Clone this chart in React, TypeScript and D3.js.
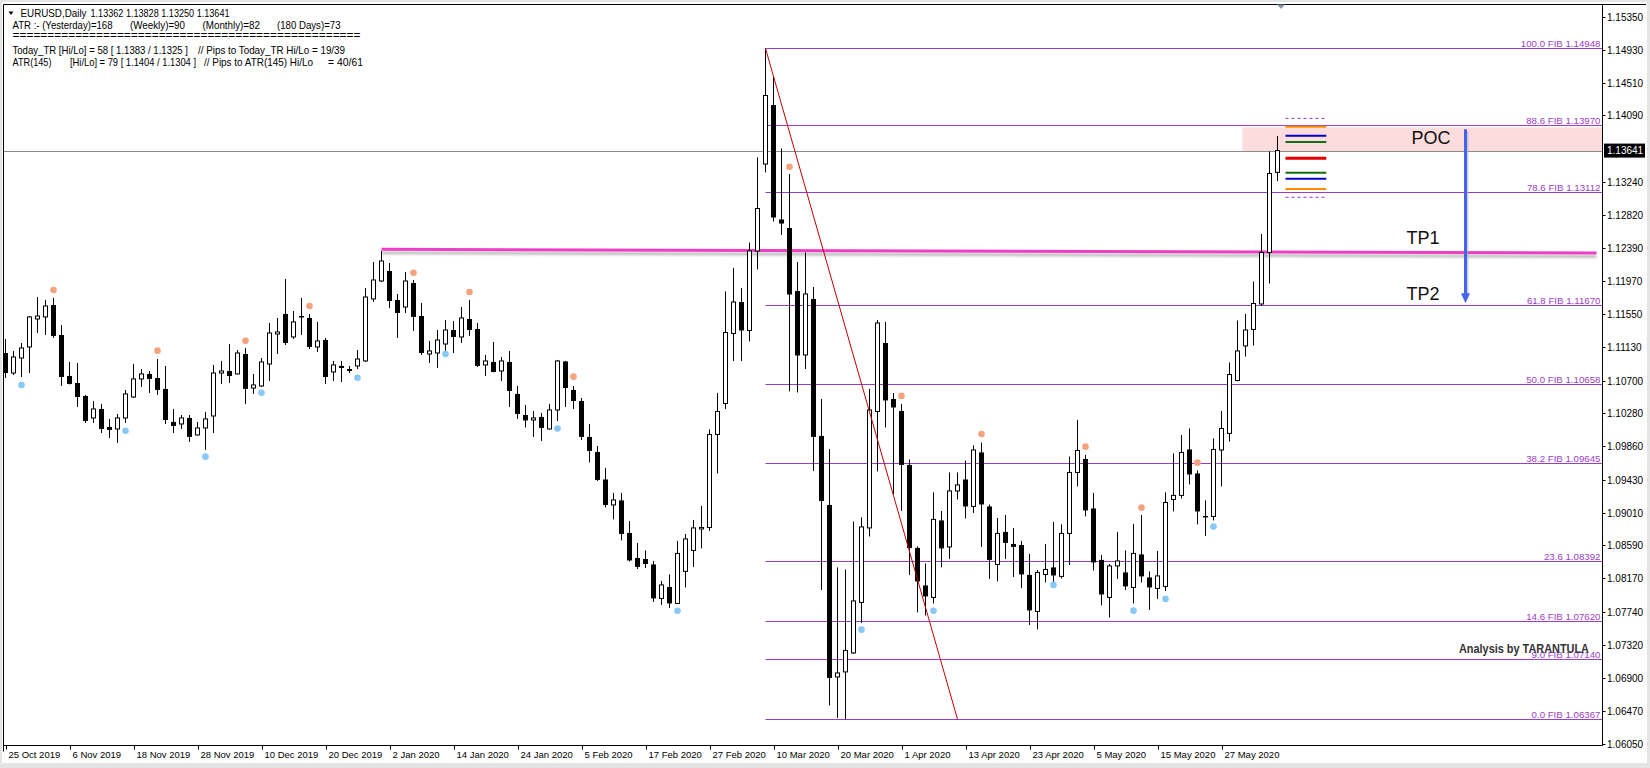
import React from 'react';
import * as d3 from 'd3';

const W = 1650;
const H = 768;

// plot frame (MT4 window)
const PL = 3.5;
const PT = 4.5;
const PR = 1602.5;
const PB = 745.5;

// EURUSD daily bars: open, high, low, close
const ohlc: [number, number, number, number][] = [
  [1.11052, 1.11231, 1.10732, 1.10796], [1.10796, 1.11078, 1.10771, 1.11001], [1.10988, 1.1118, 1.10745, 1.11116],
  [1.11129, 1.11525, 1.10796, 1.11513], [1.11487, 1.11768, 1.11308, 1.11525], [1.11513, 1.1173, 1.11282, 1.11653],
  [1.11666, 1.11756, 1.11244, 1.1127], [1.11282, 1.1141, 1.1063, 1.10745], [1.10758, 1.10937, 1.1065, 1.10656],
  [1.10668, 1.10924, 1.10361, 1.10489], [1.10502, 1.10515, 1.10157, 1.10182], [1.10221, 1.10438, 1.10157, 1.10336],
  [1.10336, 1.104, 1.10029, 1.1008], [1.10106, 1.10208, 1.09965, 1.10067], [1.1008, 1.10272, 1.09901, 1.10221],
  [1.10221, 1.10579, 1.10157, 1.10528], [1.10489, 1.10911, 1.10477, 1.1072], [1.1072, 1.10847, 1.10617, 1.10784],
  [1.10784, 1.10822, 1.10541, 1.1072], [1.10732, 1.10975, 1.10515, 1.10579], [1.10592, 1.10886, 1.10144, 1.10195],
  [1.1017, 1.10336, 1.10029, 1.10118], [1.10144, 1.10259, 1.1008, 1.10221], [1.10221, 1.10259, 1.09914, 1.09978],
  [1.10003, 1.1017, 1.09997, 1.10093], [1.10093, 1.10298, 1.09811, 1.10208], [1.10246, 1.10899, 1.10029, 1.10796],
  [1.10796, 1.1095, 1.10656, 1.10822], [1.10822, 1.11167, 1.10668, 1.10758], [1.10784, 1.1109, 1.10777, 1.11052],
  [1.11039, 1.11116, 1.104, 1.10592], [1.10604, 1.10784, 1.10528, 1.10643], [1.1063, 1.10988, 1.10617, 1.10937],
  [1.10911, 1.11436, 1.10694, 1.11308], [1.11295, 1.115, 1.11039, 1.11321], [1.11551, 1.11999, 1.11154, 1.1118],
  [1.11257, 1.11589, 1.11231, 1.11449], [1.11525, 1.11756, 1.11282, 1.11513], [1.115, 1.11551, 1.11103, 1.11129],
  [1.11129, 1.11449, 1.11065, 1.11206], [1.11218, 1.11244, 1.10656, 1.10745], [1.10809, 1.1095, 1.10694, 1.10899],
  [1.10886, 1.1095, 1.10681, 1.1086], [1.10847, 1.10886, 1.10796, 1.10822], [1.10886, 1.1109, 1.10847, 1.10975],
  [1.1095, 1.11883, 1.10937, 1.11768], [1.11743, 1.12216, 1.11704, 1.11986], [1.11973, 1.12357, 1.1196, 1.12229],
  [1.12101, 1.12203, 1.11628, 1.11717], [1.1173, 1.11807, 1.11244, 1.11564], [1.1164, 1.12088, 1.11564, 1.11973],
  [1.11947, 1.11986, 1.11334, 1.11513], [1.11525, 1.11692, 1.11027, 1.11052], [1.11039, 1.11206, 1.10924, 1.11078],
  [1.11052, 1.11346, 1.1086, 1.11218], [1.11167, 1.11474, 1.11052, 1.11346], [1.11346, 1.11461, 1.11052, 1.11257],
  [1.11257, 1.1164, 1.1118, 1.115], [1.11487, 1.1173, 1.1127, 1.11346], [1.11359, 1.11436, 1.10873, 1.10886],
  [1.10899, 1.11027, 1.10758, 1.1095], [1.10937, 1.11193, 1.10805, 1.10809], [1.10822, 1.11001, 1.10694, 1.1095],
  [1.10937, 1.11078, 1.10361, 1.10566], [1.10528, 1.1063, 1.10208, 1.10272], [1.10259, 1.10387, 1.10099, 1.10189],
  [1.10195, 1.1031, 1.09978, 1.10221], [1.10234, 1.10285, 1.09927, 1.10093], [1.1008, 1.104, 1.10074, 1.10323],
  [1.10323, 1.10963, 1.10182, 1.1095], [1.10944, 1.1095, 1.10361, 1.10604], [1.10579, 1.1063, 1.10336, 1.10438],
  [1.10438, 1.10477, 1.09939, 1.09978], [1.09978, 1.10144, 1.09652, 1.09799], [1.09786, 1.09863, 1.09415, 1.09428],
  [1.09434, 1.09581, 1.09076, 1.09108], [1.09108, 1.09262, 1.08923, 1.09172], [1.09166, 1.09262, 1.08654, 1.08737],
  [1.0875, 1.08903, 1.08385, 1.08398], [1.0843, 1.08622, 1.08289, 1.08315], [1.08417, 1.08526, 1.08302, 1.08353],
  [1.08347, 1.08392, 1.07867, 1.07912], [1.07912, 1.08136, 1.07829, 1.08085], [1.08059, 1.08219, 1.07791, 1.07848],
  [1.07848, 1.08648, 1.07842, 1.08488], [1.08258, 1.08737, 1.08053, 1.08673], [1.08526, 1.08916, 1.08315, 1.08814],
  [1.08801, 1.09095, 1.08552, 1.0882], [1.0882, 1.10074, 1.08776, 1.1001], [1.1001, 1.10541, 1.09511, 1.10304],
  [1.10406, 1.11839, 1.10336, 1.11314], [1.11302, 1.12139, 1.1095, 1.11704], [1.11704, 1.11883, 1.1095, 1.1134],
  [1.1134, 1.12465, 1.11199, 1.12357], [1.12357, 1.13553, 1.1212, 1.129], [1.13469, 1.14948, 1.13361, 1.14346],
  [1.14224, 1.14582, 1.12734, 1.12785], [1.1276, 1.13668, 1.12561, 1.12708], [1.12651, 1.13342, 1.1056, 1.118],
  [1.11845, 1.12216, 1.10547, 1.1102], [1.11027, 1.12338, 1.10847, 1.11807], [1.11743, 1.11896, 1.09543, 1.09978],
  [1.09991, 1.10464, 1.08021, 1.09159], [1.09108, 1.09824, 1.06544, 1.06895], [1.06908, 1.08309, 1.06384, 1.06959],
  [1.06972, 1.08283, 1.06367, 1.07247], [1.07215, 1.08897, 1.07202, 1.0788], [1.07861, 1.08948, 1.07599, 1.08827],
  [1.08814, 1.10592, 1.08705, 1.10323], [1.10304, 1.11474, 1.09537, 1.11436], [1.1118, 1.11449, 1.10099, 1.10445],
  [1.10464, 1.10541, 1.09249, 1.10355], [1.1031, 1.104, 1.09031, 1.0962], [1.0962, 1.0969, 1.08213, 1.08558],
  [1.08558, 1.08577, 1.07733, 1.0813], [1.08078, 1.0836, 1.07695, 1.07938], [1.07925, 1.09268, 1.07848, 1.08923],
  [1.0891, 1.09031, 1.08309, 1.08552], [1.08571, 1.09524, 1.08417, 1.09287], [1.09287, 1.09524, 1.09178, 1.09364],
  [1.09434, 1.09677, 1.08935, 1.09089], [1.09089, 1.09869, 1.09006, 1.09811], [1.0978, 1.09907, 1.08571, 1.09114],
  [1.09089, 1.09114, 1.08162, 1.08405], [1.08347, 1.08942, 1.0813, 1.08744], [1.08763, 1.0898, 1.08417, 1.08622],
  [1.08609, 1.08814, 1.08187, 1.08571], [1.08596, 1.08648, 1.08046, 1.08219], [1.08213, 1.08481, 1.07573, 1.07759],
  [1.07746, 1.08277, 1.07516, 1.08245], [1.08219, 1.08609, 1.08117, 1.08283], [1.08309, 1.08891, 1.08104, 1.08206],
  [1.08194, 1.08859, 1.08168, 1.08744], [1.08744, 1.09728, 1.08341, 1.09524], [1.09524, 1.10195, 1.09345, 1.09805],
  [1.09696, 1.09748, 1.08961, 1.09038], [1.09063, 1.09262, 1.0827, 1.08373], [1.08405, 1.08469, 1.07823, 1.07963],
  [1.07925, 1.08353, 1.07669, 1.08328], [1.08328, 1.08763, 1.08162, 1.08392], [1.08245, 1.08526, 1.08021, 1.08066],
  [1.08053, 1.08865, 1.07848, 1.08488], [1.08475, 1.0898, 1.08117, 1.08194], [1.08181, 1.08258, 1.07765, 1.08053],
  [1.0804, 1.0852, 1.07906, 1.082], [1.08066, 1.09268, 1.08008, 1.0914], [1.09178, 1.09767, 1.09025, 1.0923],
  [1.0923, 1.10003, 1.09191, 1.0978], [1.09818, 1.10086, 1.0937, 1.09498], [1.09511, 1.09549, 1.08859, 1.09025],
  [1.08967, 1.09166, 1.08712, 1.08948], [1.08961, 1.09959, 1.0891, 1.09818], [1.09811, 1.1031, 1.09345, 1.10086],
  [1.10023, 1.10931, 1.0992, 1.10777], [1.107, 1.11468, 1.10688, 1.11078], [1.11142, 1.11551, 1.11007, 1.11346],
  [1.11353, 1.11967, 1.11148, 1.11685], [1.11679, 1.12574, 1.11653, 1.12338], [1.12338, 1.13629, 1.11941, 1.13348],
  [1.13362, 1.13828, 1.1325, 1.13641],
];

// one label every 8 bars
const dateLabels = [
  '25 Oct 2019', '6 Nov 2019', '18 Nov 2019', '28 Nov 2019', '10 Dec 2019', '20 Dec 2019', '2 Jan 2020',
  '14 Jan 2020', '24 Jan 2020', '5 Feb 2020', '17 Feb 2020', '27 Feb 2020', '10 Mar 2020', '20 Mar 2020',
  '1 Apr 2020', '13 Apr 2020', '23 Apr 2020', '5 May 2020', '15 May 2020', '27 May 2020',
];

const priceTicks = [
  1.1535, 1.1493, 1.1451, 1.1409, 1.1324, 1.1282, 1.1239, 1.1197, 1.1155, 1.1113, 1.107,
  1.1028, 1.0986, 1.0943, 1.0901, 1.0859, 1.0817, 1.0774, 1.0732, 1.069, 1.0647, 1.0605,
];

const fibLevels = [
  { label: '100.0 FIB 1.14948', price: 1.14948 },
  { label: '88.6 FIB 1.13970', price: 1.1397 },
  { label: '78.6 FIB 1.13112', price: 1.13112 },
  { label: '61.8 FIB 1.11670', price: 1.1167 },
  { label: '50.0 FIB 1.10658', price: 1.10658 },
  { label: '38.2 FIB 1.09645', price: 1.09645 },
  { label: '23.6  1.08392', price: 1.08392 },
  { label: '14.6 FIB 1.07620', price: 1.0762 },
  { label: '9.0 FIB 1.07140', price: 1.0714 },
  { label: '0.0 FIB 1.06367', price: 1.06367 },
];
const fibStart = 95;

// fractal markers [bar, price]
const fractalUp: [number, number][] = [
  [6, 1.11858], [19, 1.11082], [30, 1.11209], [38, 1.11653], [51, 1.12079], [58, 1.11832], [71, 1.10749],
  [98, 1.13434], [112, 1.10503], [122, 1.10016], [135, 1.09854], [142, 1.09074], [149, 1.09649],
];
const fractalDown: [number, number][] = [
  [2, 1.10643], [15, 1.10058], [25, 1.09726], [32, 1.10544], [44, 1.10736], [55, 1.11039], [69, 1.10086],
  [84, 1.07754], [107, 1.07513], [116, 1.07754], [131, 1.08085], [141, 1.07756], [145, 1.07906], [151, 1.08831],
];

const lastPrice = 1.13641;
const resistance = { bar: 47, start: 1.12378, end: 1.12331 };
const trendStart: [number, number] = [95, 1.14948];
const trendEnd: [number, number] = [119, 1.06367];
const pocZone = { bar: 154.6, top: 1.13938, bottom: 1.13635 };
const atrLevels = [
  { price: 1.14053, color: '#9933cc', width: 1, dash: '3,3' },
  { price: 1.13946, color: '#ff8c00', width: 2, dash: '' },
  { price: 1.13831, color: '#0000c8', width: 2, dash: '' },
  { price: 1.13751, color: '#107010', width: 2, dash: '' },
  { price: 1.13542, color: '#e60000', width: 3, dash: '' },
  { price: 1.13358, color: '#107010', width: 2, dash: '' },
  { price: 1.13281, color: '#0000c8', width: 2, dash: '' },
  { price: 1.1315, color: '#ff8c00', width: 2, dash: '' },
  { price: 1.13044, color: '#9933cc', width: 1, dash: '3,3' },
];
const atrBars: [number, number] = [160, 165.1];
const arrow = { bar: 182.5, from: 1.13913, to: 1.11688 };

const infoLines = [
  { y: 16.5, parts: [{ t: 'EURUSD,Daily', x: 20.5, w: 66 }, { t: '1.13362 1.13828 1.13250 1.13641', x: 90.5, w: 139 }] },
  {
    y: 28.5,
    parts: [
      { t: 'ATR :- (Yesterday)=168', x: 12.5, w: 100 },
      { t: '(Weekly)=90', x: 130, w: 55 },
      { t: '(Monthly)=82', x: 202.5, w: 57.5 },
      { t: '(180 Days)=73', x: 277, w: 63.5 },
    ],
  },
  { y: 39, parts: [{ t: '='.repeat(50), x: 12.5, w: 348 }] },
  {
    y: 54,
    parts: [
      { t: 'Today_TR [Hi/Lo] = 58 [ 1.1383 / 1.1325 ]', x: 12.5, w: 175.5 },
      { t: '// Pips to Today_TR Hi/Lo  = 19/39', x: 198, w: 147 },
    ],
  },
  {
    y: 65.5,
    parts: [
      { t: 'ATR(145)', x: 12.5, w: 39 },
      { t: '[Hi/Lo] = 79 [ 1.1404 / 1.1304 ]', x: 70, w: 126 },
      { t: '//  Pips to ATR(145) Hi/Lo', x: 204, w: 109 },
      { t: '= 40/61', x: 328, w: 35 },
    ],
  },
];

export default function App() {
  const x = d3.scaleLinear().domain([0, 1]).range([5.5, 13.5]);
  const y = d3.scaleLinear().domain([1.0605, 1.1535]).range([744, 17]);
  const font = "'Liberation Sans', Arial, sans-serif";

  const arrowX = x(arrow.bar);
  const arrowTop = y(arrow.from);
  const arrowTip = y(arrow.to);

  return (
    <svg
      width={W}
      height={H}
      style={{ position: 'absolute', left: 0, top: 0, display: 'block' }}
      fontFamily={font}
    >
      <defs>
        <clipPath id="plot">
          <rect x={PL} y={PT} width={PR - PL} height={PB - PT} />
        </clipPath>
        <filter id="soft" x="-5%" y="-200%" width="110%" height="500%">
          <feGaussianBlur stdDeviation="1.2" />
        </filter>
      </defs>
      <rect width={W} height={H} fill="#e4e4e4" />
      <rect x={2} y={2} width={1645} height={761} fill="#ffffff" />

      <g clipPath="url(#plot)">
        {/* POC zone */}
        <rect
          x={x(pocZone.bar)}
          y={y(pocZone.top)}
          width={PR - x(pocZone.bar)}
          height={y(pocZone.bottom) - y(pocZone.top)}
          fill="#fcdcdc"
        />

        {/* current price line */}
        <line x1={PL} x2={PR} y1={Math.round(y(lastPrice)) + 0.5} y2={Math.round(y(lastPrice)) + 0.5} stroke="#8c8c8c" />

        {/* fibonacci levels */}
        {fibLevels.map((f) => {
          const yy = Math.round(y(f.price)) + 0.5;
          return (
            <g key={f.label}>
              <line x1={x(fibStart)} x2={PR} y1={yy} y2={yy} stroke="#9a3fc4" />
              <text x={PR - 2} y={yy - 2} textAnchor="end" fontSize={9.7} fill="#9b3ec6">
                {f.label}
              </text>
            </g>
          );
        })}

        {/* resistance line with shadow */}
        <line
          x1={x(resistance.bar)}
          x2={PR - 6}
          y1={y(resistance.start) + 3.5}
          y2={y(resistance.end) + 3.5}
          stroke="#8a8a8a"
          strokeWidth={3}
          opacity={0.55}
          filter="url(#soft)"
        />
        <line
          x1={x(resistance.bar)}
          x2={PR - 6}
          y1={y(resistance.start)}
          y2={y(resistance.end)}
          stroke="#ee3ec6"
          strokeWidth={3}
        />

        {/* candles */}
        {ohlc.map(([o, h, l, c], i) => {
          const cx = x(i);
          const bull = c >= o;
          const top = y(Math.max(o, c));
          const bot = y(Math.min(o, c));
          return (
            <g key={i}>
              <line x1={cx} x2={cx} y1={y(h)} y2={y(l)} stroke="#000" />
              {bull ? (
                <rect x={cx - 2} y={top} width={4} height={Math.max(bot - top, 1)} fill="#fff" stroke="#000" />
              ) : (
                <rect x={cx - 2.5} y={top} width={5} height={Math.max(bot - top, 1.5)} fill="#000" />
              )}
            </g>
          );
        })}

        {/* fractals */}
        {fractalUp.map(([i, p]) => (
          <circle key={'u' + i} cx={x(i)} cy={y(p)} r={3.3} fill="#f5a27e" />
        ))}
        {fractalDown.map(([i, p]) => (
          <circle key={'d' + i} cx={x(i)} cy={y(p)} r={3.3} fill="#88c8f5" />
        ))}

        {/* trend line from the high */}
        <line
          x1={x(trendStart[0])}
          y1={y(trendStart[1])}
          x2={x(trendEnd[0])}
          y2={y(trendEnd[1])}
          stroke="#c00000"
          strokeWidth={1}
        />

        {/* ATR / range levels */}
        {atrLevels.map((lv, k) => (
          <line
            key={k}
            x1={x(atrBars[0])}
            x2={x(atrBars[1])}
            y1={y(lv.price)}
            y2={y(lv.price)}
            stroke={lv.color}
            strokeWidth={lv.width}
            strokeDasharray={lv.dash || undefined}
          />
        ))}

        {/* arrow to TP2 */}
        <line x1={arrowX + 1.5} x2={arrowX + 1.5} y1={arrowTop + 2} y2={arrowTip - 6} stroke="#9aa6d8" strokeWidth={3} opacity={0.5} />
        <line x1={arrowX} x2={arrowX} y1={arrowTop} y2={arrowTip - 8} stroke="#4565e6" strokeWidth={3} />
        <path
          d={`M${arrowX - 4.5},${arrowTip - 10} L${arrowX + 4.5},${arrowTip - 10} L${arrowX},${arrowTip} Z`}
          fill="#4565e6"
        />

        <text x={1431} y={143.5} textAnchor="middle" fontSize={18} fill="#111">POC</text>
        <text x={1423} y={244} textAnchor="middle" fontSize={18} fill="#111">TP1</text>
        <text x={1423} y={300} textAnchor="middle" fontSize={18} fill="#111">TP2</text>

        <text x={1459} y={653} fontSize={12} fontWeight="bold" fill="#333" textLength={130} lengthAdjust="spacingAndGlyphs">
          Analysis by TARANTULA
        </text>
      </g>

      {/* info text */}
      <path d="M8.5,11.5 L13.5,11.5 L11,15 Z" fill="#000" />
      {infoLines.map((ln, k) =>
        ln.parts.map((p, j) => (
          <text
            key={k + '-' + j}
            x={p.x}
            y={ln.y}
            fontSize={10.5}
            fill="#000"
            textLength={p.w}
            lengthAdjust="spacingAndGlyphs"
          >
            {p.t}
          </text>
        ))
      )}

      {/* frame */}
      <line x1={PL} x2={1646} y1={PT} y2={PT} stroke="#000" />
      <line x1={PL} x2={PL} y1={PT} y2={PB + 6} stroke="#000" />
      <line x1={PL} x2={PR} y1={PB} y2={PB} stroke="#000" />
      <line x1={PR} x2={PR} y1={PT} y2={PB} stroke="#000" />
      <path d="M1277,4.5 L1285,4.5 L1281,9 Z" fill="#8596ab" />

      {/* price axis */}
      {priceTicks.map((p) => {
        const yy = Math.round(y(p)) + 0.5;
        return (
          <g key={p}>
            <line x1={PR} x2={PR + 3} y1={yy} y2={yy} stroke="#000" />
            <text x={1607} y={yy} dy="0.35em" fontSize={10} fill="#000">
              {p.toFixed(5)}
            </text>
          </g>
        );
      })}
      <rect x={1604} y={y(lastPrice) - 7} width={41} height={14} fill="#000" />
      <text x={1607} y={y(lastPrice)} dy="0.35em" fontSize={10} fill="#fff">
        {lastPrice.toFixed(5)}
      </text>

      {/* time axis */}
      {dateLabels.map((d, k) => {
        const xx = Math.round(x(k * 8)) + 0.5;
        return (
          <g key={d}>
            <line x1={xx} x2={xx} y1={PB} y2={PB + 4} stroke="#000" />
            <text x={xx + 2} y={757.5} fontSize={9.5} fill="#000">
              {d}
            </text>
          </g>
        );
      })}
    </svg>
  );
}
